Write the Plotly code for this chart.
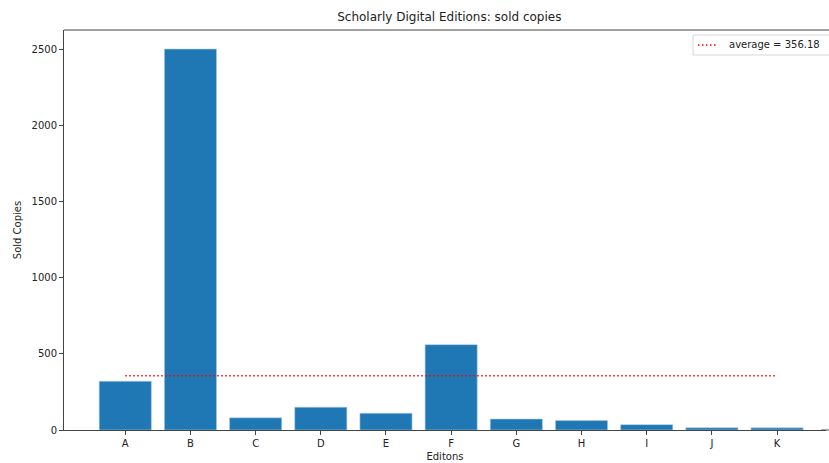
import plotly.graph_objects as go

categories = ["A", "B", "C", "D", "E", "F", "G", "H", "I", "J", "K"]
sold_copies = [320, 2500, 80, 150, 110, 560, 72, 62, 35, 15, 14]
average_value = 356.18
y_ticks = [0, 500, 1000, 1500, 2000, 2500]
legend_label = "average = %.2f" % average_value

fig = go.Figure()
fig.add_trace(go.Bar(
    x=categories, y=sold_copies, width=0.8,
    marker=dict(color="#1f77b4", line=dict(color="#aecde6", width=0.6)),
    showlegend=False,
))
fig.add_trace(go.Scatter(
    x=[categories[0], categories[-1]], y=[average_value, average_value],
    mode="lines", line=dict(color="#ff0000", width=1.5, dash="1.5px,2.5px"),
    name=legend_label, showlegend=False,
))

def px_x(p):
    return (p - 64) / 765.0

def px_y(p):
    return (430 - p) / 400.0

shapes = [
    dict(type="line", xref="paper", yref="paper", x0=0, x1=1.02, y0=1, y1=1,
         line=dict(color="#444", width=1)),
    dict(type="line", xref="paper", yref="paper", x0=0.99, x1=1.02, y0=0, y1=0,
         line=dict(color="#444", width=1)),
    dict(type="rect", xref="paper", yref="paper", x0=px_x(693), x1=px_x(845),
         y0=px_y(55), y1=px_y(35), fillcolor="rgba(255,255,255,0.8)",
         line=dict(color="#d6d6d6", width=1), layer="above"),
    dict(type="line", xref="paper", yref="paper", x0=px_x(698), x1=px_x(718),
         y0=px_y(45), y1=px_y(45), line=dict(color="#ff0000", width=1.5, dash="1.5px,2.5px"),
         layer="above"),
]

fig.update_layout(
    width=829, height=463, autosize=False,
    margin=dict(l=64, r=0, t=30, b=33),
    paper_bgcolor="white", plot_bgcolor="white",
    font=dict(family="DejaVu Sans", size=10, color="#222"),
    title=dict(text="Scholarly Digital Editions: sold copies", x=0.542, xanchor="center",
               y=0.963, yanchor="middle", font=dict(size=12, color="#222")),
    bargap=0.2,
    showlegend=False,
    shapes=shapes,
    annotations=[dict(text=legend_label, xref="paper", yref="paper",
                      x=px_x(727), y=px_y(45), xanchor="left", yanchor="middle",
                      showarrow=False, font=dict(size=10, color="#222"))],
)
fig.update_xaxes(
    domain=[0, 0.996],
    range=[-0.94, 10.75], showgrid=False, zeroline=False,
    showline=True, linecolor="#444", linewidth=1, mirror=False,
    ticks="outside", ticklen=4, tickcolor="#444",
    title=dict(text="Editons", font=dict(size=10), standoff=4),
    tickfont=dict(size=10),
)
fig.update_yaxes(
    range=[0, 2625], showgrid=False, zeroline=False,
    showline=True, linecolor="#444", linewidth=1, mirror=False,
    ticks="outside", ticklen=4, tickcolor="#444",
    tickvals=y_ticks, ticktext=[str(v) for v in y_ticks],
    title=dict(text="Sold Copies", font=dict(size=10), standoff=8),
    tickfont=dict(size=10),
)

fig.write_html("out.html")
